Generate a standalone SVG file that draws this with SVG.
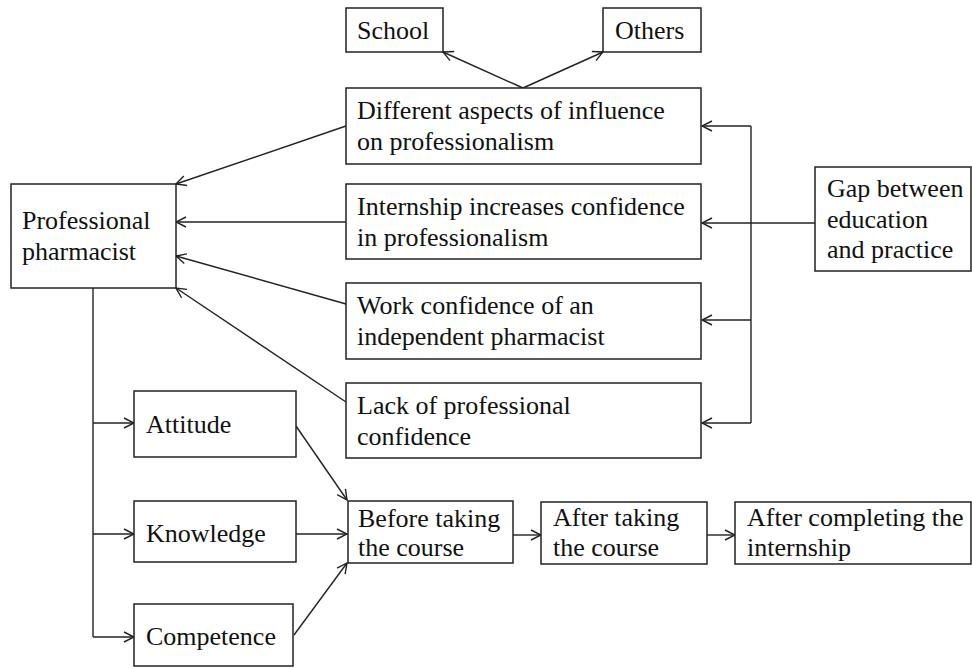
<svg xmlns="http://www.w3.org/2000/svg" width="972" height="668" viewBox="0 0 972 668">
<style>
.box{fill:#fff;stroke:#222;stroke-width:1.5}
.t{font-family:"Liberation Serif","Times New Roman",serif;font-size:26px;fill:#111}
.c{fill:none;stroke:#222;stroke-width:1.4;marker-end:url(#ah)}
.l{fill:none;stroke:#222;stroke-width:1.4}
</style>
<defs>
<marker id="ah" viewBox="0 0 12 12" refX="11" refY="6" markerWidth="12" markerHeight="12" markerUnits="userSpaceOnUse" orient="auto">
<path d="M1,1 L11,6 L1,11" fill="none" stroke="#222" stroke-width="1.4"/>
</marker>
</defs>
<rect width="972" height="668" fill="#fff"/>
<g id="connectors">
<path class="c" d="M523,88 L443,52"/>
<path class="c" d="M523,88 L603,52"/>
<path class="c" d="M346,126 L176,184"/>
<path class="c" d="M346,222 L176,222"/>
<path class="c" d="M346,304 L176,256"/>
<path class="c" d="M346,402 L176,288"/>
<path class="l" d="M815,223 L751,223"/>
<path class="l" d="M751,126 L751,423"/>
<path class="c" d="M751,126 L702,126"/>
<path class="c" d="M751,223 L702,223"/>
<path class="c" d="M751,320 L702,320"/>
<path class="c" d="M751,423 L702,423"/>
<path class="l" d="M93,288 L93,637"/>
<path class="c" d="M93,423 L134,423"/>
<path class="c" d="M93,534 L134,534"/>
<path class="c" d="M93,637 L134,637"/>
<path class="c" d="M296,426 L347,500"/>
<path class="c" d="M296,534 L347,534"/>
<path class="c" d="M294,635 L347,563"/>
<path class="c" d="M513,535 L541,535"/>
<path class="c" d="M707,535 L735,535"/>
</g>
<g id="school"><rect class="box" x="346" y="8" width="97" height="44"/><text class="t" x="357" y="39">School</text></g>
<g id="others"><rect class="box" x="603" y="8" width="98" height="44"/><text class="t" x="615" y="39">Others</text></g>
<g id="different"><rect class="box" x="346" y="88" width="355" height="76"/><text class="t" x="357" y="119">Different aspects of influence<tspan x="357" y="150">on professionalism</tspan></text></g>
<g id="internship"><rect class="box" x="346" y="184" width="355" height="75"/><text class="t" x="357" y="215">Internship increases confidence<tspan x="357" y="246">in professionalism</tspan></text></g>
<g id="work"><rect class="box" x="346" y="283" width="355" height="76"/><text class="t" x="357" y="314">Work confidence of an<tspan x="357" y="345">independent pharmacist</tspan></text></g>
<g id="lack"><rect class="box" x="346" y="383" width="355" height="75"/><text class="t" x="357" y="414">Lack of professional<tspan x="357" y="445">confidence</tspan></text></g>
<g id="gap"><rect class="box" x="815" y="167" width="156" height="104"/><text class="t" x="827" y="197">Gap between<tspan x="827" y="228">education</tspan><tspan x="827" y="258">and practice</tspan></text></g>
<g id="professional"><rect class="box" x="11" y="184" width="165" height="104"/><text class="t" x="22" y="229">Professional<tspan x="22" y="260">pharmacist</tspan></text></g>
<g id="attitude"><rect class="box" x="134" y="391" width="162" height="66"/><text class="t" x="146" y="433">Attitude</text></g>
<g id="knowledge"><rect class="box" x="134" y="501" width="162" height="61"/><text class="t" x="146" y="542">Knowledge</text></g>
<g id="competence"><rect class="box" x="134" y="604" width="159" height="62"/><text class="t" x="146" y="645">Competence</text></g>
<g id="before"><rect class="box" x="348" y="501" width="165" height="62"/><text class="t" x="358" y="527">Before taking<tspan x="358" y="556">the course</tspan></text></g>
<g id="aftercourse"><rect class="box" x="541" y="502" width="166" height="62"/><text class="t" x="553" y="526">After taking<tspan x="553" y="556">the course</tspan></text></g>
<g id="afterintern"><rect class="box" x="735" y="502" width="236" height="62"/><text class="t" x="747" y="526">After completing the<tspan x="747" y="556">internship</tspan></text></g>
</svg>
